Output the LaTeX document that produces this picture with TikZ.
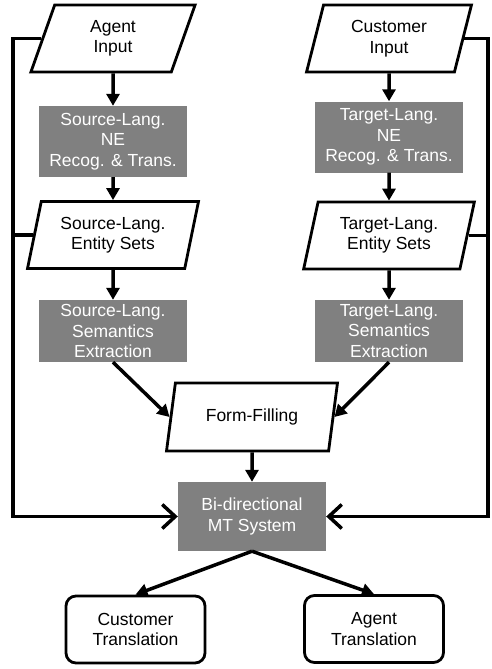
\documentclass[tikz,border=0pt]{standalone}
\usepackage{fontspec}
\setmainfont{Liberation Sans}
\usetikzlibrary{shapes.geometric,arrows.meta}

\definecolor{procgray}{RGB}{128,128,128}

\tikzset{
  every node/.style={font=\fontsize{17.5}{20.5}\selectfont, align=center},
  iobox/.style={trapezium, trapezium left angle=76, trapezium right angle=104,
    trapezium stretches=true, draw, line width=2.8pt, fill=white,
    minimum height=67pt},
  procbox/.style={rectangle, fill=procgray, text=white, minimum width=148pt},
  outbox/.style={rectangle, rounded corners=10pt, draw, line width=2.8pt,
    minimum width=139pt, minimum height=67pt},
  flow/.style={line width=3.5pt, -{Triangle[length=12pt,width=13pt]}},
  feed/.style={line width=3.5pt},
  feedin/.style={feed, -{Straight Barb[length=13pt,width=24pt]}},
}

\begin{document}
\begin{tikzpicture}[x=1pt,y=-1pt]
    \useasboundingbox (0,0) rectangle (491,669);

    % Eingaben
    \node[iobox, minimum width=165pt] (ain) at (113,38.5) {Agent\\Input};
    \node[iobox, minimum width=165pt] (cin) at (389,38.5) {Customer\\Input};

    % Named-Entity-Erkennung
    \node[procbox, minimum height=71pt] (srcne) at (113,141.5) {Source-Lang.\\NE\\Recog. \& Trans.};
    \node[procbox, minimum height=71pt] (tgtne) at (389,137) {Target-Lang.\\NE\\Recog. \& Trans.};

    % Entitaetsmengen
    \node[iobox, minimum width=171pt] (srcset) at (113,235) {Source-Lang.\\Entity Sets};
    \node[iobox, minimum width=171pt] (tgtset) at (389,235.5) {Target-Lang.\\Entity Sets};

    % Semantik
    \node[procbox, minimum height=62pt] (srcsem) at (113,331) {Source-Lang.\\Semantics\\Extraction};
    \node[procbox, minimum height=62pt] (tgtsem) at (389,331) {Target-Lang.\\Semantics\\Extraction};

    \node[iobox, minimum width=171pt, minimum height=68pt] (form) at (252,417) {Form-Filling};

    \node[procbox, minimum height=69pt] (mt) at (252,516.5) {Bi-directional\\MT System};

    % Ausgaben
    \node[outbox] (ctrans) at (135.5,629.5) {Customer\\Translation};
    \node[outbox] (atrans) at (374,629) {Agent\\Translation};

    \coordinate (lbus) at (13,516.5);
    \coordinate (rbus) at (488,516.5);

    % Pfeile
    \draw[flow] (ain) -- (srcne);
    \draw[flow] (srcne) -- (srcset);
    \draw[flow] (srcset) -- (srcsem);
    \draw[flow] (cin) -- (tgtne);
    \draw[flow] (tgtne) -- (tgtset);
    \draw[flow] (tgtset) -- (tgtsem);
    \draw[flow] (srcsem.south) -- (form.west);
    \draw[flow] (tgtsem.south) -- (form.east);
    \draw[flow] (form) -- (mt);
    \draw[flow] (mt.south) -- (ctrans.north);
    \draw[flow] (mt.south) -- (atrans.north);

    % Rueckfuehrung
    \draw[feedin] (ain.west) -| (lbus) -- (mt.west);
    \draw[feed] (srcset.west) -- (srcset.west -| lbus);
    \draw[feedin] (cin.east) -| (rbus) -- (mt.east);
    \draw[feed] (tgtset.east) -- (tgtset.east -| rbus);

\end{tikzpicture}
\end{document}
